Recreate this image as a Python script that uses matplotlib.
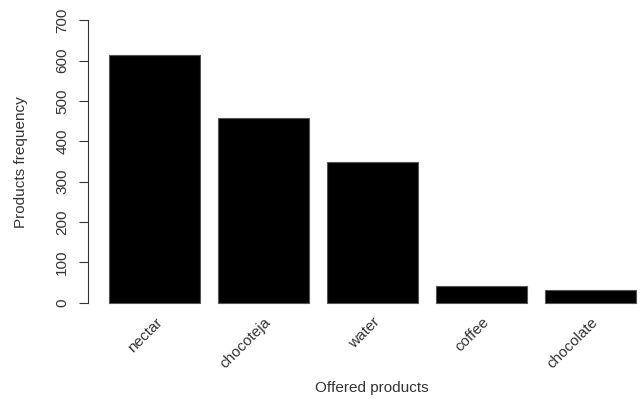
import matplotlib
matplotlib.use("Agg")
import matplotlib.pyplot as plt
import numpy as np

# data
products = ["nectar", "chocoteja", "water", "coffee", "chocolate"]
frequency = [615, 457, 348, 42, 31]
yticks = [0, 100, 200, 300, 400, 500, 600, 700]

plt.rcParams['font.family'] = ['Liberation Sans', 'DejaVu Sans']
text_col = '#333333'
fs = 11

fig = plt.figure(figsize=(6.41, 4.01), dpi=100)
# plot region runs a little past the right edge, like the cropped original
ax = fig.add_axes([88 / 641, 87 / 401, 569 / 641, 305 / 401])

# R barplot layout: width 1, space 0.2
lefts = 0.2 + 1.2 * np.arange(len(products))
centers = lefts + 0.5
ax.bar(centers, frequency, width=1.0, color='black', edgecolor='#555555', linewidth=0.8)

ax.set_xlim(-0.032, 6.232)
ax.set_ylim(-28, 728)

for s in ['top', 'right', 'bottom']:
    ax.spines[s].set_visible(False)
ax.spines['left'].set_bounds(0, 700)
ax.spines['left'].set_color(text_col)
ax.spines['left'].set_linewidth(0.8)

ax.set_yticks(yticks)
ax.set_yticklabels([str(v) for v in yticks], rotation=90, va='center',
                   fontsize=fs, color=text_col)
ax.tick_params(axis='y', length=6.5, width=0.8, color=text_col, pad=7)
ax.set_xticks([])

for c, name in zip(centers, products):
    ax.text(c + 0.06, -42, name, rotation=45, ha='right', va='center',
            rotation_mode='anchor', fontsize=fs, color=text_col, clip_on=False)

fig.text(21 / 641, 1 - 162 / 401, 'Products frequency', rotation=90,
         ha='center', va='center', fontsize=fs, color=text_col)
fig.text(372 / 641, 1 - 388 / 401, 'Offered products', ha='center', va='center',
         fontsize=fs, color=text_col)

fig.savefig('out.png', dpi=100)
